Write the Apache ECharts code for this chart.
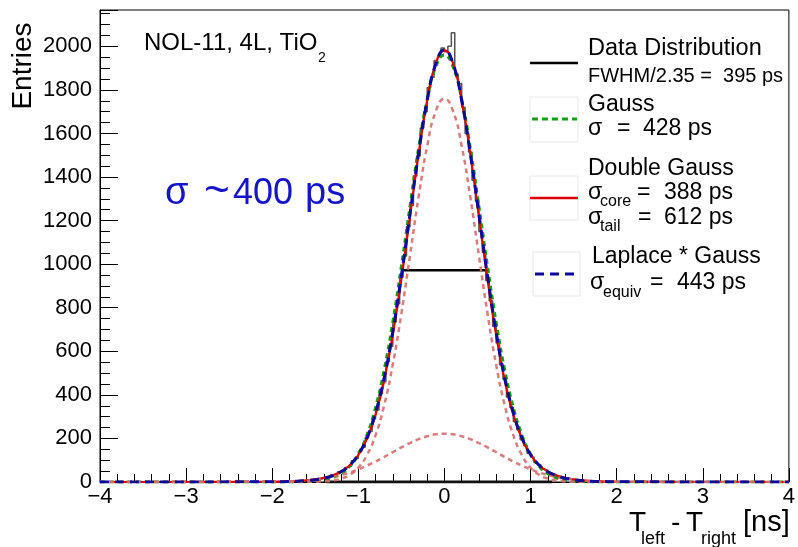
<!DOCTYPE html>
<html>
<head>
<meta charset="utf-8">
<script src="https://cdn.jsdelivr.net/npm/echarts@6/dist/echarts.min.js"></script>
<style>
  html, body { margin: 0; padding: 0; background: #fff; }
  #chart { width: 798px; height: 547px; }
</style>
</head>
<body>
<div id="chart"></div>
<script>
var fitX = [-4, -2.0, -1.9, -1.8, -1.7, -1.6, -1.5, -1.4, -1.3, -1.2, -1.1, -1.0, -0.9, -0.8, -0.7, -0.6, -0.5, -0.4, -0.3, -0.2, -0.1,
  0, 0.1, 0.2, 0.3, 0.4, 0.5, 0.6, 0.7, 0.8, 0.9, 1.0, 1.1, 1.2, 1.3, 1.4, 1.5, 1.6, 1.7, 1.8, 1.9, 2.0, 4]
var gauss = [0, 0, 0.1, 0.3, 0.7, 1.8, 4.2, 9.3, 19.4, 38.5, 72, 128, 215, 342, 515, 734, 991, 1266, 1533, 1757, 1907,
  1960, 1907, 1757, 1533, 1266, 991, 734, 515, 342, 215, 128, 72, 38.5, 19.4, 9.3, 4.2, 1.8, 0.7, 0.3, 0.1, 0, 0]
var doubleGauss = [0, 1.0, 1.7, 2.9, 4.7, 7.5, 12, 19, 30, 48, 77, 124, 198, 309, 467, 676, 932, 1219, 1506, 1754, 1922,
  1982, 1922, 1754, 1506, 1219, 932, 676, 467, 309, 198, 124, 77, 48, 30, 19, 12, 7.5, 4.7, 2.9, 1.7, 1.0, 0]
var coreGauss = [0, 0, 0, 0, 0.1, 0.4, 1.1, 2.8, 6.8, 15.5, 33, 66, 123, 215, 352, 539, 774, 1040, 1309, 1543, 1703,
  1760, 1703, 1543, 1309, 1040, 774, 539, 352, 215, 123, 66, 33, 15.5, 6.8, 2.8, 1.1, 0.4, 0.1, 0, 0, 0, 0]
var tailGauss = [0, 1.0, 1.7, 2.9, 4.6, 7.1, 11, 16, 23, 32, 44, 58, 75, 94, 115, 137, 159, 179, 197, 210, 219,
  222, 219, 210, 197, 179, 159, 137, 115, 94, 75, 58, 44, 32, 23, 16, 11, 7.1, 4.6, 2.9, 1.7, 1.0, 0]
var laplaceGauss = [0, 0.9, 1.5, 2.4, 4.0, 6.5, 10.6, 17.5, 28.5, 47, 77, 126, 203, 318, 478, 690, 948, 1230, 1510, 1752, 1920,
  1985, 1920, 1752, 1510, 1230, 948, 690, 478, 318, 203, 126, 77, 47, 28.5, 17.5, 10.6, 6.5, 4.0, 2.4, 1.5, 0.9, 0]

// data histogram, 0.04 ns bins starting at -1.6 ns
var histStart = -1.6
var binWidth = 0.04
var histCounts = [9, 11, 10, 16, 15, 24, 22, 33, 35, 47, 50, 66, 74, 97, 108, 140, 160, 203, 232, 290,
  330, 405, 460, 552, 622, 735, 818, 940, 1038, 1172, 1270, 1405, 1498, 1625, 1700, 1810, 1858, 1935, 1952, 1992,
  1975, 2000, 2062, 1872, 1830, 1720, 1600, 1515, 1385, 1290, 1150, 1055, 925, 832, 715, 638, 538, 472, 390, 342,
  278, 240, 194, 168, 132, 115, 90, 79, 60, 54, 41, 37, 28, 26, 19, 18, 13, 12, 9, 8]
var baseX = [-1.37, 1.25]
var fwhmX = [-0.483, 0.471]
var fwhmY = 972

var xTicks = { min: -4, max: 4, step: 1 }
var yTicks = { min: 0, max: 2167, step: 200 }

var FONT = 'Liberation Sans, Arial, Helvetica, sans-serif'

function pairs(xs, ys) {
  return xs.map(function(x, i) { return [x, ys[i]] })
}
var histData = histCounts.map(function(c, i) {
  return [+(histStart + (i + 0.5) * binWidth).toFixed(3), c]
})

function txt(x, y, s, size, color) {
  return {
    type: 'text', x: x, y: y, z: 100,
    style: { text: s, fontSize: size, fontFamily: FONT, fill: color || '#000', align: 'left', verticalAlign: 'middle' }
  }
}
function seg(x1, y1, x2, y2, color, w, dash) {
  return {
    type: 'line', z: 100,
    shape: { x1: x1, y1: y1, x2: x2, y2: y2 },
    style: { stroke: color, lineWidth: w, lineDash: dash || null }
  }
}
function box(x, y, w, h) {
  return {
    type: 'rect', z: 99,
    shape: { x: x, y: y, width: w, height: h },
    style: { fill: '#fff', stroke: '#e8e8e8', lineWidth: 1 }
  }
}

var chart = echarts.init(document.getElementById('chart'))
chart.setOption({
  animation: false,
  backgroundColor: '#fff',
  grid: {
    left: 100, right: 9, top: 10, bottom: 65,
    show: true, borderColor: '#000', borderWidth: 1, backgroundColor: 'transparent'
  },
  xAxis: {
    type: 'value',
    min: xTicks.min,
    max: xTicks.max,
    interval: xTicks.step,
    axisLine: { onZero: false, lineStyle: { color: '#000', width: 1 } },
    axisTick: { inside: true, length: 14, lineStyle: { color: '#000' } },
    minorTick: { show: true, splitNumber: 5, length: 8, lineStyle: { color: '#000' } },
    splitLine: { show: false },
    axisLabel: {
      fontSize: 22, fontFamily: FONT, color: '#000', margin: 4,
      formatter: function(v) { return String(v).replace('-', '\u2212') }
    }
  },
  yAxis: {
    type: 'value',
    min: yTicks.min,
    max: yTicks.max,
    interval: yTicks.step,
    axisLine: { show: true, onZero: false, lineStyle: { color: '#000', width: 1 } },
    axisTick: { inside: true, length: 18, lineStyle: { color: '#000' } },
    minorTick: { show: true, splitNumber: 4, length: 10, lineStyle: { color: '#000' } },
    splitLine: { show: false },
    axisLabel: {
      fontSize: 22, fontFamily: FONT, color: '#000', margin: 8, showMaxLabel: false,
      formatter: function(v) { return String(v) }
    }
  },
  series: [
    {
      name: 'Data Distribution', type: 'line', step: 'middle', symbol: 'none',
      lineStyle: { color: '#555', width: 1.5 },
      data: histData, z: 1
    },
    {
      name: 'baseline', type: 'line', symbol: 'none',
      lineStyle: { color: '#111', width: 3 },
      data: [[baseX[0], 0], [baseX[1], 0]], z: 2
    },
    {
      name: 'FWHM', type: 'line', symbol: 'none',
      lineStyle: { color: '#000', width: 2.5 },
      data: [[fwhmX[0], fwhmY], [fwhmX[1], fwhmY]], z: 3
    },
    {
      name: 'Gauss', type: 'line', smooth: true, symbol: 'none',
      lineStyle: { color: '#14a014', width: 3, type: [5, 4] },
      data: pairs(fitX, gauss), z: 4
    },
    {
      name: 'Double Gauss', type: 'line', smooth: true, symbol: 'none',
      lineStyle: { color: '#e00000', width: 2.2 },
      data: pairs(fitX, doubleGauss), z: 5
    },
    {
      name: 'core', type: 'line', smooth: true, symbol: 'none',
      lineStyle: { color: '#d46e6e', width: 2.5, type: [5, 4], opacity: 0.9 },
      data: pairs(fitX, coreGauss), z: 6
    },
    {
      name: 'tail', type: 'line', smooth: true, symbol: 'none',
      lineStyle: { color: '#d46e6e', width: 2.5, type: [5, 4], opacity: 0.9 },
      data: pairs(fitX, tailGauss), z: 6
    },
    {
      name: 'Laplace * Gauss', type: 'line', smooth: true, symbol: 'none',
      lineStyle: { color: '#0a0a9a', width: 3, type: [9, 6] },
      data: pairs(fitX, laplaceGauss), z: 7
    }
  ],
  graphic: [
    txt(144, 43, 'NOL-11, 4L, TiO', 24), txt(318, 58, '2', 14),
    // blue annotation, placed piece by piece to follow the reference spacing
    txt(165, 194, '\u03c3', 38, '#1414c8'), txt(204, 192, '~', 44, '#1414c8'),
    txt(233, 194, '400', 36, '#1414c8'), txt(305, 194, 'ps', 38, '#1414c8'),
    // legend
    seg(530, 63, 578, 63, '#000', 2.5),
    txt(588, 49, 'Data Distribution', 23.5),
    txt(588, 76, 'FWHM/2.35 =  395 ps', 20),
    box(530, 97, 48, 45), seg(532, 119, 577, 119, '#14a014', 3, [6, 4]),
    txt(588, 105, 'Gauss', 23),
    txt(588, 129, '\u03c3', 23), txt(617, 129, '=', 23), txt(643, 129, '428 ps', 23),
    box(530, 176, 48, 44), seg(530, 198, 578, 198, '#e00000', 2.5),
    txt(588, 169, 'Double Gauss', 23),
    txt(588, 193, '\u03c3', 23), txt(600, 202, 'core', 16), txt(637, 193, '=', 23), txt(664, 193, '388 ps', 23),
    txt(588, 218, '\u03c3', 23), txt(600, 227, 'tail', 16), txt(638, 218, '=', 23), txt(664, 218, '612 ps', 23),
    box(533, 252, 47, 44), seg(535, 274, 578, 274, '#0a0a9a', 3, [9, 6]),
    txt(592, 257, 'Laplace * Gauss', 23),
    txt(590, 283, '\u03c3', 23), txt(603, 293, 'equiv', 16), txt(650, 283, '=', 23), txt(677, 283, '443 ps', 23),
    // axis titles
    txt(629, 523, 'T', 28), txt(641, 539, 'left', 18), txt(671, 523, '-', 28),
    txt(686, 523, 'T', 28), txt(701, 539, 'right', 18), txt(743, 523, '[ns]', 29),
    {
      type: 'text', x: 23, y: 66, rotation: Math.PI / 2, z: 100,
      style: { text: 'Entries', fontSize: 28, fontFamily: FONT, fill: '#000', align: 'center', verticalAlign: 'middle' }
    }
  ]
})
</script>
</body>
</html>
